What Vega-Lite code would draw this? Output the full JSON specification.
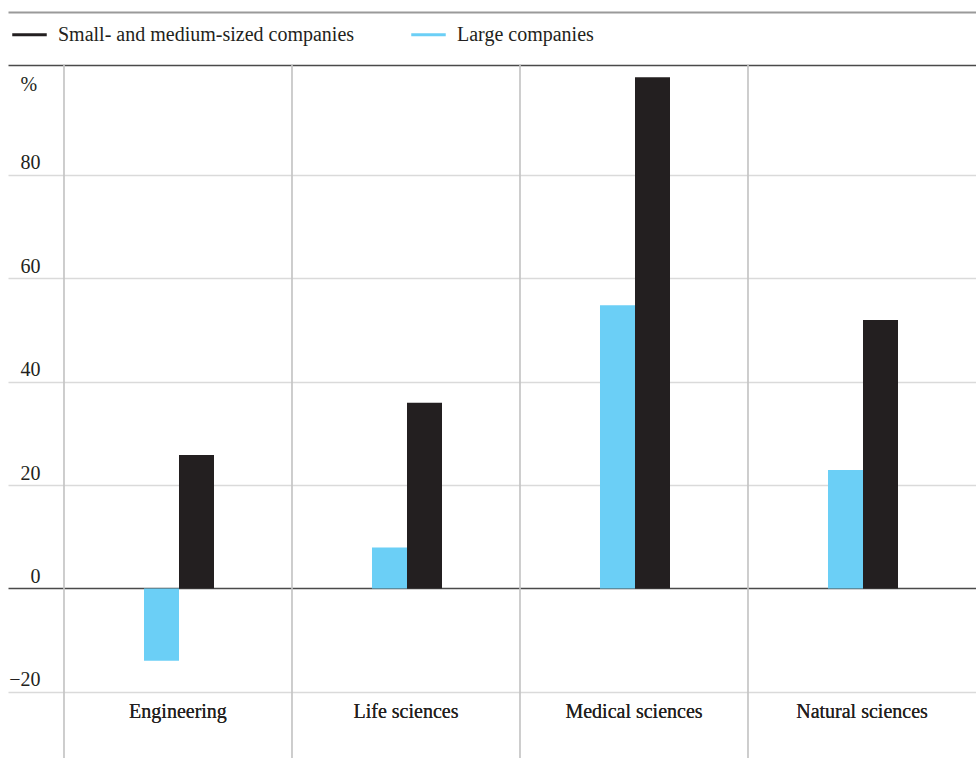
{
  "$schema": "https://vega.github.io/schema/vega-lite/v6.json",
  "width": 968,
  "height": 746,
  "autosize": {"type": "none"},
  "padding": {"left": 8, "top": 12, "right": 0, "bottom": 0},
  "background": "white",
  "config": {"view": {"stroke": null}, "font": "Liberation Serif"},
  "data": {
    "values": [
      {"field": "Engineering", "company": "Large companies", "value": -14},
      {"field": "Engineering", "company": "Small- and medium-sized companies", "value": 25.8},
      {"field": "Life sciences", "company": "Large companies", "value": 7.9},
      {"field": "Life sciences", "company": "Small- and medium-sized companies", "value": 35.9},
      {"field": "Medical sciences", "company": "Large companies", "value": 54.8},
      {"field": "Medical sciences", "company": "Small- and medium-sized companies", "value": 98.9},
      {"field": "Natural sciences", "company": "Large companies", "value": 22.9},
      {"field": "Natural sciences", "company": "Small- and medium-sized companies", "value": 51.9}
    ]
  },
  "encoding": {
    "x": {
      "field": "field",
      "type": "nominal",
      "sort": ["Engineering", "Life sciences", "Medical sciences", "Natural sciences"],
      "scale": {"paddingInner": 0, "paddingOuter": 0.1228, "align": 1},
      "axis": null
    }
  },
  "layer": [
    {
      "mark": {"type": "rule", "color": "#c4c4c4", "strokeWidth": 1.2},
      "encoding": {
        "x": {
          "field": "field",
          "type": "nominal",
          "bandPosition": 0,
          "sort": ["Engineering", "Life sciences", "Medical sciences", "Natural sciences"],
          "axis": null
        },
        "y": {"datum": 101.3},
        "y2": {"datum": -32.8}
      }
    },
    {
      "mark": {"type": "bar"},
      "encoding": {
        "xOffset": {
          "field": "company",
          "type": "nominal",
          "scale": {
            "domain": ["Large companies", "Small- and medium-sized companies"],
            "range": [80, 150],
            "paddingInner": 0,
            "paddingOuter": 0
          }
        },
        "y": {
          "field": "value",
          "type": "quantitative",
          "scale": {"domain": [-32.8, 111.5], "nice": false, "zero": false},
          "axis": {
            "values": [-20, 0, 20, 40, 60, 80, 101.3, 111.5],
            "title": "%",
            "titleAngle": 0,
            "titleAlign": "left",
            "titleBaseline": "alphabetic",
            "titleX": 12,
            "titleY": 78,
            "titleFont": "Liberation Serif",
            "titleFontSize": 20,
            "titleFontWeight": "normal",
            "titleColor": "#231f20",
            "domain": false,
            "ticks": false,
            "tickSize": 0,
            "labelAlign": "right",
            "labelBaseline": "alphabetic",
            "labelPadding": -32,
            "labelOffset": -6,
            "labelFontSize": 20,
            "labelColor": "#231f20",
            "labelFont": "Liberation Serif",
            "labelExpr": "datum.value > 90 ? '' : datum.label",
            "grid": true,
            "gridColor": {
              "condition": [
                {"test": "datum.value > 105", "value": "#9a9a9a"},
                {"test": "datum.value == 0 || datum.value > 100", "value": "#4a4a4a"}
              ],
              "value": "#dadada"
            },
            "gridWidth": {
              "condition": [
                {"test": "datum.value > 105", "value": 2},
                {"test": "datum.value == 0 || datum.value > 100", "value": 1.5}
              ],
              "value": 1.5
            }
          }
        },
        "color": {
          "field": "company",
          "type": "nominal",
          "scale": {
            "domain": ["Small- and medium-sized companies", "Large companies"],
            "range": ["#231f20", "#6bcff6"]
          },
          "legend": {
            "title": null,
            "orient": "none",
            "direction": "horizontal",
            "legendX": 4,
            "legendY": 5,
            "symbolType": "M-1,-0.09H1V0.09H-1Z",
            "symbolSize": 1190,
            "symbolStrokeWidth": 0,
            "labelFont": "Liberation Serif",
            "labelFontSize": 20,
            "labelLimit": 500,
            "labelColor": "#231f20",
            "labelOffset": 11,
            "columnPadding": 56
          }
        }
      }
    },
    {
      "mark": {
        "type": "text",
        "font": "Liberation Serif",
        "fontSize": 20,
        "color": "#231f20",
        "baseline": "alphabetic",
        "align": "center"
      },
      "encoding": {
        "y": {"datum": -25},
        "text": {"field": "field"}
      }
    }
  ]
}
